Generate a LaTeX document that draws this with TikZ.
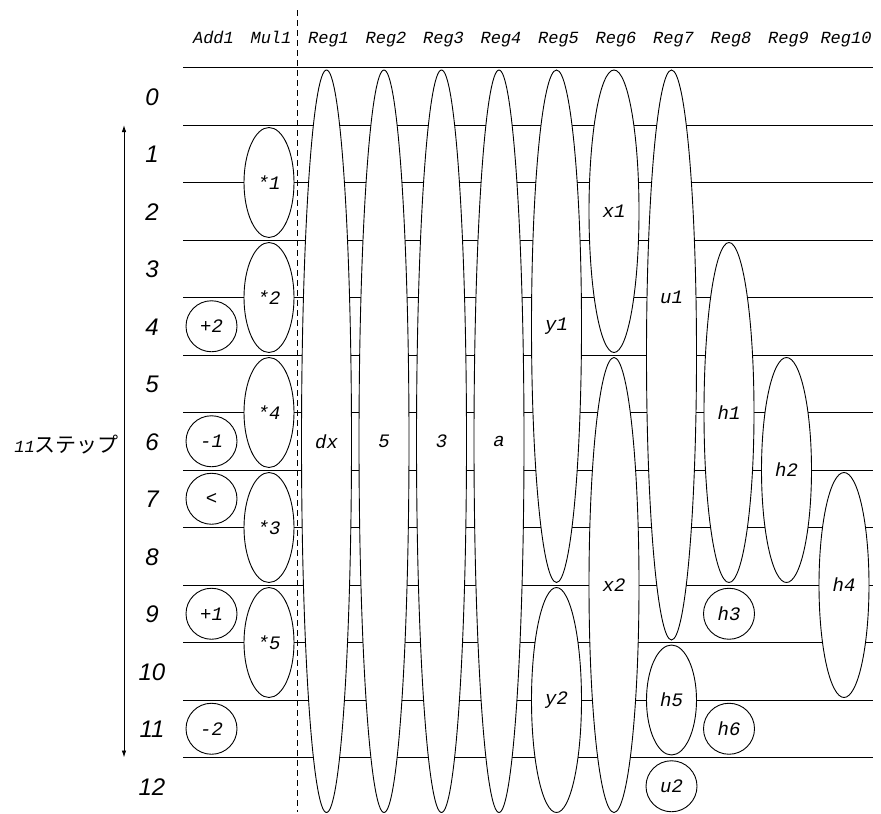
\documentclass[tikz,border=0pt]{standalone}
\usepackage{fontspec}
\setmainfont{Liberation Sans}
\newfontfamily\monofam{Liberation Mono}
\newfontfamily\cjkfam{Noto Sans CJK JP}
\usetikzlibrary{shapes.geometric,arrows.meta}
\newcommand\lblfont{\fontsize{17}{17}\selectfont\monofam\itshape}
\newcommand\inlblfont{\fontsize{19}{19}\selectfont\monofam\itshape}
\newcommand\rowfont{\fontsize{24}{24}\selectfont\rmfamily\itshape}
\tikzset{
  gridline/.style={line width=0.9pt},
  ell/.style={ellipse, draw, fill=white, inner sep=0pt, minimum width=50pt, line width=0.9pt, font=\inlblfont},
  circ/.style={ellipse, draw, fill=white, inner sep=0pt, minimum width=51pt, minimum height=51pt, line width=0.9pt, font=\inlblfont},
  hdr/.style={font=\lblfont, anchor=base},
  rowlbl/.style={font=\rowfont, anchor=base},
  lbl/.style={font=\inlblfont, inner sep=0pt}
}
\begin{document}
\begin{tikzpicture}[x=1pt,y=-1pt]
\useasboundingbox (0,0) rectangle (881,814);
% horizontal lines
\foreach \k in {0,...,12}{
  \coordinate (L\k) at (183,67.5+57.5*\k);
  \coordinate (R\k) at (873,67.5+57.5*\k);
  \draw[gridline] (L\k) -- (R\k);
}
% dashed separator
\coordinate (dtop) at (297,10);
\coordinate (dbot) at (297,812);
\draw[line width=0.9pt, dash pattern=on 6pt off 4pt] (dtop) -- (dbot);
% headers
\foreach \n/\x in {Add1/211.5,Mul1/269,Reg1/326.5,Reg2/384,Reg3/441.5,Reg4/499,Reg5/556.5,Reg6/614,Reg7/671.5,Reg8/729,Reg9/786.5,Reg10/844}{
  \node[hdr] (h\n) at (\x+2,43) {\n};
}
% row labels
\foreach \k in {0,...,12}{
  \node[rowlbl] (row\k) at (152,96.25+57.5*\k+9) {\k};
}
% step arrow
\coordinate (atop) at (124,125);
\coordinate (abot) at (124,757.5);
\draw[line width=0.9pt, {Latex[length=7pt,width=4.5pt]}-{Latex[length=7pt,width=4.5pt]}] (atop) -- (abot);
\node[anchor=east, inner sep=0pt] (steps) at (119,445) {{\lblfont 11}{\cjkfam\fontsize{21}{21}\selectfont ステップ}};
% Reg1-Reg4
\node[ell, minimum height=742.5pt] (r1) at (326.5,441.25) {dx};
\node[ell, minimum height=742.5pt] (r2) at (384,441.25) {5};
\node[ell, minimum height=742.5pt] (r3) at (441.5,441.25) {3};
\node[ell, minimum height=742.5pt] (r4) at (499,441.25) {a};
% Reg5
\node[ell, minimum height=512.5pt] (y1) at (556.5,326.25) {y1};
\node[ell, minimum height=225pt] (y2) at (556.5,700) {y2};
% Reg6
\node[ell, minimum height=282.5pt] (x1) at (614,211.25) {x1};
\node[ell, minimum height=455pt] (x2) at (614,585) {x2};
% Reg7
\node[ell, minimum height=570pt] (u1) at (671.5,355) {};
\node[lbl] (u1lbl) at (671.5,297.5) {u1};
\node[ell, minimum height=110pt] (h5) at (671.5,700) {h5};
\node[circ] (u2) at (671.5,786.25) {u2};
% Reg8
\node[ell, minimum height=340pt] (h1) at (729,412.5) {h1};
\node[circ] (h3) at (729,613.75) {h3};
\node[circ] (h6) at (729,728.75) {h6};
% Reg9, Reg10
\node[ell, minimum height=225pt] (h2) at (786.5,470) {h2};
\node[ell, minimum height=225pt] (h4) at (844,585) {h4};
% Mul1
\node[ell, minimum height=110pt] (m1) at (269,182.5) {*1};
\node[ell, minimum height=110pt] (m2) at (269,297.5) {*2};
\node[ell, minimum height=110pt] (m4) at (269,412.5) {*4};
\node[ell, minimum height=110pt] (m3) at (269,527.5) {*3};
\node[ell, minimum height=110pt] (m5) at (269,642.5) {*5};
% Add1
\node[circ] (a2) at (211.5,326.25) {+2};
\node[circ] (s1) at (211.5,441.25) {-1};
\node[circ] (lt) at (211.5,498.75) {<};
\node[circ] (a1) at (211.5,613.75) {+1};
\node[circ] (s2) at (211.5,728.75) {-2};
\end{tikzpicture}
\end{document}
